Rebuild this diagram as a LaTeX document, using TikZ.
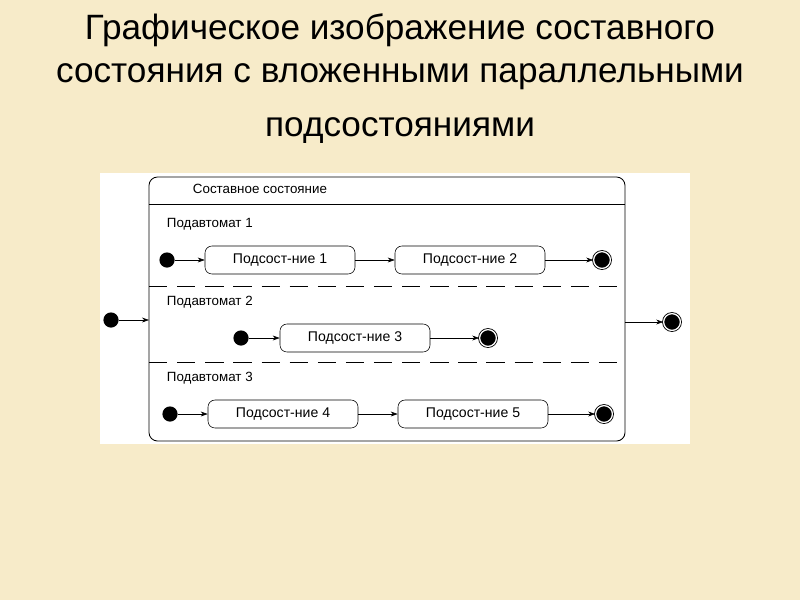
\documentclass[tikz,border=0pt]{standalone}
\usepackage{fontspec}
\setmainfont{Liberation Sans}
\usetikzlibrary{arrows.meta}
\definecolor{parch}{HTML}{F7EBC9}
\begin{document}
\begin{tikzpicture}[x=0.025cm,y=-0.025cm,
  st/.style={draw,rounded corners=5pt,minimum width=3.75cm,minimum height=0.7cm,font=\fontsize{10}{11}\selectfont,inner sep=0pt},
  ini/.style={circle,fill=black,minimum size=0.38cm,inner sep=0pt},
  fin/.style={circle,draw,double,double distance=0.9pt,fill=black,minimum size=0.42cm,inner sep=0pt,line width=0.6pt},
  lab/.style={anchor=west,font=\fontsize{9.5}{11}\selectfont},
  ar/.style={-{Stealth[length=5pt,width=3.5pt]},line width=0.4pt}]
\fill[parch] (0,0) rectangle (800,600);
\useasboundingbox (0,0) rectangle (800,600);
\node[font=\fontsize{25}{31}\selectfont,align=center,scale=1] (title) at (400,79) {Графическое изображение составного\\[-1pt]состояния с вложенными параллельными\\[8pt]подсостояниями};
\fill[white] (100,173) rectangle (690,444);
\draw[rounded corners=6pt,line width=0.6pt] (149,177) rectangle (625,441);
\coordinate (cl) at (149,320); \coordinate (cr) at (625,322);
\draw (149,204) -- (625,204);
\draw[dash pattern=on 13pt off 7pt] (149,286) -- (625,286);
\draw[dash pattern=on 13pt off 7pt] (149,362) -- (625,362);
\node[lab] (t0) at (188,189) {Составное состояние};
\node[lab] (p1) at (162,224) {Подавтомат 1};
\node[lab] (p2) at (162,302) {Подавтомат 2};
\node[lab] (p3) at (162,378) {Подавтомат 3};
\node[ini] (i1) at (167,260) {};
\node[st] (s1) at (280,260) {Подсост-ние 1};
\node[st] (s2) at (470,260) {Подсост-ние 2};
\node[fin] (f1) at (602,260) {};
\draw[ar] (i1) -- (s1); \draw[ar] (s1) -- (s2); \draw[ar] (s2) -- (f1);
\node[ini] (i2) at (241,338) {};
\node[st] (s3) at (355,338) {Подсост-ние 3};
\node[fin] (f2) at (488,338) {};
\draw[ar] (i2) -- (s3); \draw[ar] (s3) -- (f2);
\node[ini] (i3) at (170,414) {};
\node[st] (s4) at (283,414) {Подсост-ние 4};
\node[st] (s5) at (473,414) {Подсост-ние 5};
\node[fin] (f3) at (604,414) {};
\draw[ar] (i3) -- (s4); \draw[ar] (s4) -- (s5); \draw[ar] (s5) -- (f3);
\node[ini] (i0) at (111,320) {};
\node[fin] (f0) at (672,322) {};
\draw[ar] (i0) -- (cl); \draw[ar] (cr) -- (f0);
\end{tikzpicture}
\end{document}
